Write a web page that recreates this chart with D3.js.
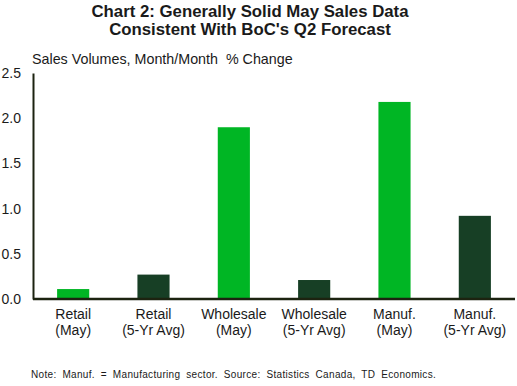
<!DOCTYPE html>
<html>
<head>
<meta charset="utf-8">
<script src="https://cdn.jsdelivr.net/npm/d3@7"></script>
<style>
  body { margin: 0; background: #fff; }
  text { font-family: Arial, "Liberation Sans", sans-serif; fill: #1a1a1a; }
</style>
</head>
<body>
<svg id="chart"></svg>
<script>
let width = 517, height = 386;

// data
const categories = ["Retail|(May)", "Retail|(5-Yr Avg)", "Wholesale|(May)", "Wholesale|(5-Yr Avg)", "Manuf.|(May)", "Manuf.|(5-Yr Avg)"];
const values = [0.11, 0.27, 1.90, 0.21, 2.18, 0.92];
const kinds = ["may", "avg", "may", "avg", "may", "avg"];
const yTicks = [0, 0.5, 1.0, 1.5, 2.0, 2.5];

const colors = { may: "#00b624", avg: "#173f25" };

let margin = { left: 33, right: 2, top: 73, bottom: 87 };

let svg = d3.select("#chart")
  .attr("width", width)
  .attr("height", height);

let x = d3.scaleBand()
  .domain(categories)
  .range([margin.left, width - margin.right])
  .paddingInner(0.6)
  .paddingOuter(0.3);

let y = d3.scaleLinear()
  .domain([0, 2.5])
  .range([height - margin.bottom, margin.top]);

// title
let title = svg.append("text")
  .attr("x", 250)
  .attr("text-anchor", "middle")
  .style("font-weight", "bold")
  .style("font-size", "16.8px");
title.append("tspan").attr("x", 250).attr("y", 17).text("Chart 2: Generally Solid May Sales Data");
title.append("tspan").attr("x", 250).attr("y", 35).text("Consistent With BoC's Q2 Forecast");

svg.append("text")
  .attr("x", 32)
  .attr("y", 64)
  .style("font-size", "14.3px")
  .style("white-space", "pre")
  .text("Sales Volumes, Month/Month  % Change");

// bars
svg.append("g").selectAll("rect")
  .data(values)
  .join("rect")
  .attr("x", (d, i) => x(categories[i]))
  .attr("width", x.bandwidth())
  .attr("y", d => y(d))
  .attr("height", d => y(0) - y(d))
  .attr("fill", (d, i) => colors[kinds[i]]);

// y axis
let yAxis = svg.append("g")
  .attr("transform", `translate(${margin.left},0)`)
  .call(d3.axisLeft(y).tickValues(yTicks).tickFormat(d3.format(".1f")).tickSize(0).tickPadding(12));
yAxis.select(".domain").attr("stroke", "#1c2310").attr("stroke-width", 2);
yAxis.selectAll("text").style("font-size", "14px").attr("fill", "#1a1a1a");

// x axis
let xAxis = svg.append("g")
  .attr("transform", `translate(0,${y(0)})`)
  .call(d3.axisBottom(x).tickSize(0).tickFormat(""));
xAxis.select(".domain").attr("stroke", "#1c2310").attr("stroke-width", 2.5)
  .attr("d", `M${margin.left},0H${width - margin.right}`);

xAxis.selectAll(".tick").each(function(d) {
  let parts = d.split("|");
  let t = d3.select(this).append("text")
    .attr("text-anchor", "middle")
    .attr("fill", "#1a1a1a")
    .style("font-size", "14px");
  t.append("tspan").attr("x", 0).attr("y", 20).text(parts[0]);
  t.append("tspan").attr("x", 0).attr("y", 36).text(parts[1]);
});

// note
svg.append("text")
  .attr("x", 31)
  .attr("y", 378)
  .style("font-size", "10px")
  .style("word-spacing", "2.8px")
  .style("letter-spacing", "0.32px")
  .text("Note: Manuf. = Manufacturing sector. Source: Statistics Canada, TD Economics.");
</script>
</body>
</html>
